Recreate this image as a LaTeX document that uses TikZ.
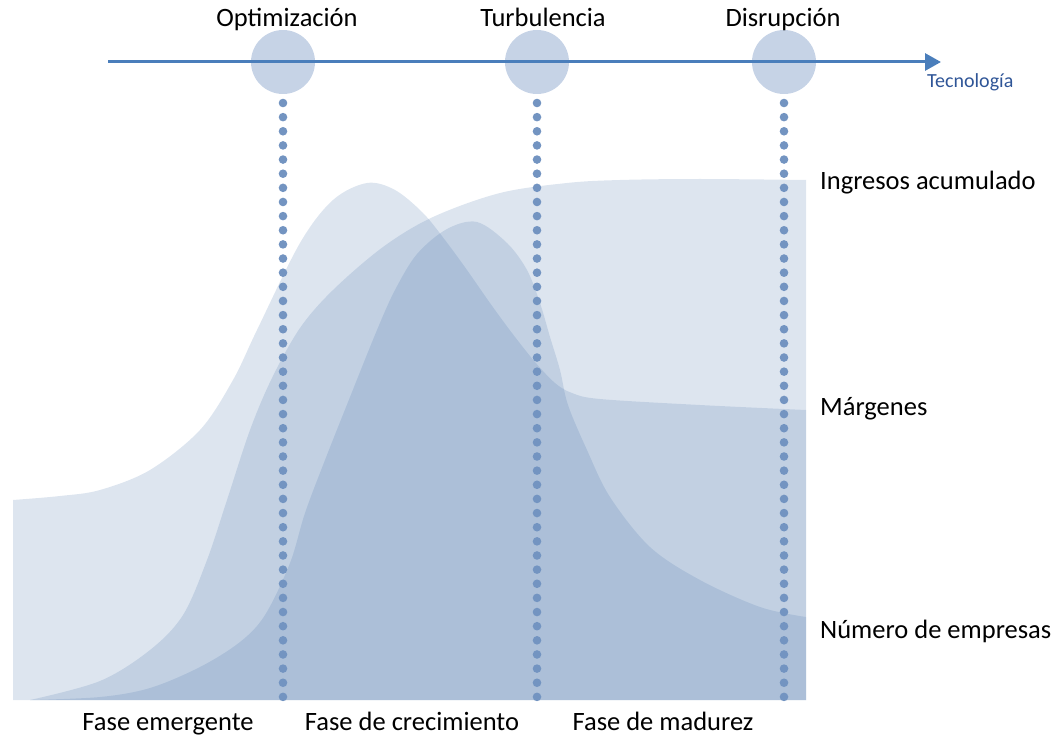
\documentclass[tikz,border=0pt]{standalone}
\usepackage{fontspec}
\setmainfont{Carlito}
\usetikzlibrary{arrows.meta}
\definecolor{areacol}{RGB}{85,125,175}
\definecolor{dotcol}{RGB}{115,148,193}
\definecolor{circcol}{RGB}{198,211,230}
\definecolor{axiscol}{RGB}{74,126,187}
\definecolor{teccol}{RGB}{47,85,151}
\begin{document}
\begin{tikzpicture}[x=1pt,y=-1pt,
  area/.style={fill=areacol, fill opacity=0.2, draw=none},
  milestone/.style={circle, fill=circcol, draw=none, minimum size=64pt, inner sep=0pt},
  dotmark/.style={fill=dotcol},
  axisline/.style={draw=axiscol, line width=3pt, -{Triangle[length=16pt,width=17pt]}},
  lab/.style={font=\fontsize{26.5}{30}\selectfont, inner sep=0pt, text=black},
  tec/.style={font=\fontsize{20}{24}\selectfont, inner sep=0pt, text=teccol}]
\useasboundingbox (0,0) rectangle (1059,735);

% Margenes
\fill[area] (13,700) -- plot[smooth, tension=0.55] coordinates {(13,500) (60,496) (100,490) (150,470) (200,430) (233,380) (257,330) (300,243) (333,200) (367,183) (395,190) (423,213) (445,240) (467,270) (490,303) (512,333) (535,362) (555,383) (572,393) (600,399) (700,405) (806,410)} -- (806,700) -- cycle;
% Ingresos acumulado
\fill[area] (30,700) -- plot[smooth, tension=0.55] coordinates {(30,700) (100,681) (150,650) (183,615) (207,560) (227,500) (250,430) (272,378) (300,328) (333,290) (383,247) (433,217) (500,193) (567,183) (620,180) (700,179) (806,180)} -- (806,700) -- cycle;
% Numero de empresas
\fill[area] (30,700) -- plot[smooth, tension=0.55] coordinates {(30,700) (100,697) (150,688) (200,667) (240,642) (265,615) (290,563) (305,513) (325,460) (350,397) (377,330) (395,290) (417,254) (447,229) (477,222) (507,243) (527,270) (540,303) (550,337) (560,370) (568,405) (587,450) (610,497) (650,547) (700,580) (760,607) (806,617)} -- (806,700) -- cycle;

% dotted verticals
\foreach \x in {283,537,784}{
  \foreach \i in {0,...,42}{
    \fill[dotmark] (\x,103+\i*14.14) circle (4.3pt);
  }
}

% milestones
\node[milestone] (m1) at (283,62) {};
\node[milestone] (m2) at (537,62) {};
\node[milestone] (m3) at (784,62) {};

% axis
\coordinate (astart) at (108,62);
\coordinate (aend) at (941,62);
\draw[axisline] (astart) -- (aend);
\node[tec, anchor=base west] (tec) at (927,88) {Tecnología};

% top labels
\node[lab, anchor=base] (l1) at (287,27) {Optimización};
\node[lab, anchor=base] (l2) at (543,27) {Turbulencia};
\node[lab, anchor=base] (l3) at (783,27) {Disrupción};

% right labels
\node[lab, anchor=base west] (r1) at (820,190) {Ingresos acumulado};
\node[lab, anchor=base west] (r2) at (820,415) {Márgenes};
\node[lab, anchor=base west] (r3) at (820,638) {Número de empresas};

% bottom labels
\node[lab, anchor=base] (b1) at (168,730) {Fase emergente};
\node[lab, anchor=base] (b2) at (412,730) {Fase de crecimiento};
\node[lab, anchor=base] (b3) at (663,730) {Fase de madurez};
\end{tikzpicture}
\end{document}
